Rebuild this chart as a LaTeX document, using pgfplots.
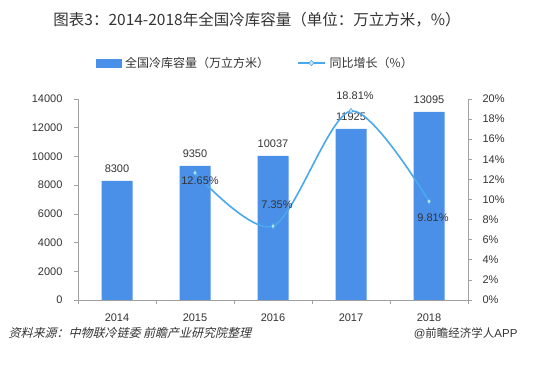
\documentclass[border=0pt]{standalone}
\usepackage{pgfplots}
\usepackage{pgfplotstable}
\pgfplotsset{compat=1.18}
\usepackage{fontspec}
\setmainfont{Liberation Sans}
\newfontfamily\cjk{Noto Sans CJK SC}
\newfontfamily\cjkit{Noto Sans CJK SC}[FakeSlant=0.25]
\definecolor{barblue}{HTML}{4A8FE8}
\definecolor{lineblue}{HTML}{4AA8EC}
\definecolor{axgray}{HTML}{A0A0A0}
\definecolor{txt}{HTML}{333333}

\pgfplotstableread{
x y dx dy
1 12.65 5 -8
2 7.35 4 21
3 18.81 4 15
4 9.81 4 -16
}\growth

\pgfplotsset{base/.style={
  at={(78pt,71pt)}, anchor=south west, scale only axis,
  width=390pt, height=201pt, xmin=-0.5, xmax=4.5,
  axis line style={axgray, line width=0.7pt},
  tick style={axgray, line width=0.7pt},
  tick align=outside, major tick length=4pt,
  ticklabel style={font=\fontsize{11}{13}\selectfont, text=txt},
  /pgf/number format/assume math mode=true,
  /pgf/number format/1000 sep={},
}}

\begin{document}
\begin{tikzpicture}[x=1pt,y=1pt]
\path[use as bounding box] (0,0) rectangle (544,371);
\node[text=txt] at (257,351) {\fontsize{15.5}{18}\selectfont\cjk 图表3：2014-2018年全国冷库容量（单位：万立方米，\%）};

\begin{axis}[base,
  axis y line*=left, axis x line*=bottom,
  ymin=0, ymax=14000, ytick={0,2000,...,14000},
  scaled y ticks=false,
  yticklabel style={xshift=-8pt},
  xtick={-0.5,0.5,1.5,2.5,3.5,4.5}, xticklabels={},
  extra x ticks={0,1,2,3,4},
  extra x tick labels={2014,2015,2016,2017,2018},
  extra x tick style={major tick length=0pt, xticklabel style={yshift=-10pt}},
]
\addplot[ybar, bar width=31pt, fill=barblue, draw=none,
  nodes near coords,
  nodes near coords style={font=\fontsize{11}{13}\selectfont, text=txt, yshift=5pt}]
  coordinates {(0,8300) (1,9350) (2,10037) (3,11925) (4,13095)};
\end{axis}

\begin{axis}[base,
  axis y line*=right, axis x line=none,
  ymin=0, ymax=20, ytick={0,2,...,20},
  yticklabel={\pgfmathprintnumber{\tick}\%},
  yticklabel style={xshift=7pt},
  legend style={at={(0.457,1.179)}, anchor=center, draw=none, fill=none,
    legend columns=2, font=\fontsize{12}{14}\selectfont, text=txt,
    nodes={inner xsep=4pt},
    /tikz/every even column/.append style={column sep=24pt}},
  legend cell align=left,
]
\addlegendimage{legend image code/.code={\fill[barblue] (0pt,-4pt) rectangle (25pt,4pt);}}
\addlegendentry{\cjk 全国冷库容量（万立方米）}
\addplot[lineblue, line width=1.6pt, smooth, mark=diamond*, mark size=2.6pt,
  mark options={fill=lineblue!30, draw=lineblue, line width=0.6pt},
  point meta=y,
  visualization depends on={\thisrow{dx} \as \dx},
  visualization depends on={\thisrow{dy} \as \dy},
  nodes near coords={\pgfmathprintnumber[fixed,fixed zerofill,precision=2]{\pgfplotspointmeta}\%},
  every node near coord/.append style={anchor=center, xshift=\dx, yshift=\dy, font=\fontsize{11}{13}\selectfont, text=txt},
  legend image code/.code={\draw[lineblue, line width=1.6pt] (0pt,0pt) -- (27pt,0pt);
    \fill[lineblue!30, draw=lineblue, line width=0.6pt] (13.5pt,2.6pt) -- (16.1pt,0pt) -- (13.5pt,-2.6pt) -- (10.9pt,0pt) -- cycle;},
] table[x=x, y=y] {\growth};
\addlegendentry{\cjk 同比增长（\%）}
\end{axis}

\node[anchor=west, text=txt] at (5,38) {\fontsize{12}{14}\selectfont\cjkit 资料来源：中物联冷链委 前瞻产业研究院整理};
\node[anchor=east, text=txt] at (521,38) {\fontsize{11.5}{14}\selectfont @{\cjk 前瞻经济学人}APP};
\end{tikzpicture}
\end{document}
